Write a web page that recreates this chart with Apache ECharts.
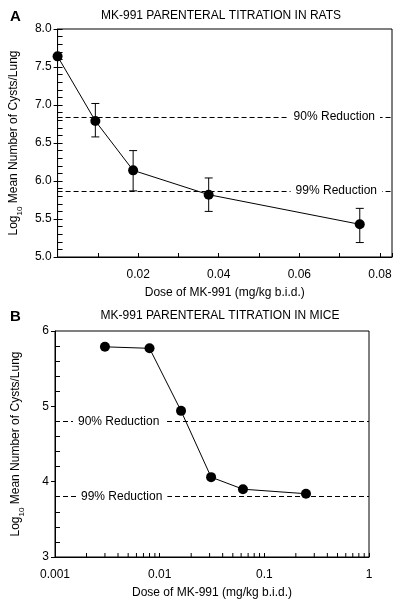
<!DOCTYPE html>
<html>
<head>
<meta charset="utf-8">
<script src="https://cdn.jsdelivr.net/npm/echarts@6/dist/echarts.min.js"></script>
<style>
html,body{margin:0;padding:0;background:#fff;}
#c{width:401px;height:603px;}
</style>
</head>
<body>
<div id="c"></div>
<script>
// ---- Panel A data (rats) ----
const doseA = [0, 0.009375, 0.01875, 0.0375, 0.075];
const meanA = [7.64, 6.79, 6.14, 5.82, 5.43];
const errLowA = [null, 6.58, 5.87, 5.60, 5.19];
const errHighA = [null, 7.02, 6.40, 6.04, 5.64];
const ref90A = 6.84;
const ref99A = 5.87;
const xTicksA = [0.02, 0.04, 0.06, 0.08];

// ---- Panel B data (mice) ----
const doseB = [0.003, 0.008, 0.016, 0.031, 0.0625, 0.25];
const meanB = [5.79, 5.77, 4.94, 4.06, 3.90, 3.84];
const ref90B = 4.80;
const ref99B = 3.80;
const logMinorB = [0.002,0.003,0.004,0.005,0.006,0.007,0.008,0.009,
                   0.02,0.03,0.04,0.05,0.06,0.07,0.08,0.09,
                   0.2,0.3,0.4,0.5,0.6,0.7,0.8,0.9];

const FONT = 'Liberation Sans, Arial, Helvetica, sans-serif';
const chart = echarts.init(document.getElementById('c'));

const yName = '{a|Log}{b|10}{a| Mean Number of Cysts/Lung}';
const yNameRich = {
  a: {fontSize: 12, fontFamily: FONT, color: '#000', lineHeight: 16, verticalAlign: 'top'},
  b: {fontSize: 8, fontFamily: FONT, color: '#000', lineHeight: 8, padding: [8, 0, 0, 0], verticalAlign: 'top'}
};

function refLine(y, text, pos, dist) {
  return {
    yAxis: y,
    label: {
      show: true, formatter: text, position: pos, distance: dist,
      color: '#000', fontSize: 12, fontFamily: FONT,
      backgroundColor: '#fff', padding: [1, 5, 1, 5]
    }
  };
}

const errDataA = doseA.map((d, i) => [d, errLowA[i], errHighA[i]]).filter(r => r[1] !== null);

const option = {
  animation: false,
  backgroundColor: '#fff',
  textStyle: {fontFamily: FONT},
  graphic: [
    {type: 'text', left: 10, top: 9, style: {text: 'A', font: 'bold 15px ' + FONT, fill: '#000'}},
    {type: 'text', left: 10, top: 309, style: {text: 'B', font: 'bold 15px ' + FONT, fill: '#000'}},
    {type: 'text', x: 221, y: 10, style: {text: 'MK-991 PARENTERAL TITRATION IN RATS', font: '12px ' + FONT, fill: '#000', align: 'center'}},
    {type: 'text', x: 220, y: 310, style: {text: 'MK-991 PARENTERAL TITRATION IN MICE', font: '12px ' + FONT, fill: '#000', align: 'center'}}
  ],
  grid: [
    {left: 56, top: 29, width: 336, height: 228, show: true, borderColor: '#000', borderWidth: 1, backgroundColor: 'transparent'},
    {left: 55, top: 331, width: 314, height: 226, show: true, borderColor: '#000', borderWidth: 1, backgroundColor: 'transparent'}
  ],
  xAxis: [
    {
      gridIndex: 0, type: 'value', min: 0, max: 0.083, interval: 0.01,
      splitLine: {show: false},
      axisLine: {lineStyle: {color: '#000'}},
      axisTick: {inside: true, length: 4, lineStyle: {color: '#000'}},
      axisLabel: {
        color: '#000', fontSize: 12, margin: 12,
        formatter: v => {
          const hit = xTicksA.find(t => Math.abs(t - v) < 1e-9);
          return hit ? hit.toFixed(2) : '';
        }
      },
      name: 'Dose of MK-991 (mg/kg b.i.d.)', nameLocation: 'middle', nameGap: 30,
      nameTextStyle: {color: '#000', fontSize: 12}
    },
    {
      gridIndex: 1, type: 'log', logBase: 10, min: 0.001, max: 1,
      splitLine: {show: false},
      axisLine: {lineStyle: {color: '#000'}},
      axisTick: {inside: true, length: 4, lineStyle: {color: '#000'}},
      axisLabel: {color: '#000', fontSize: 12, margin: 12, formatter: v => String(Number(v.toPrecision(1)))},
      name: 'Dose of MK-991 (mg/kg b.i.d.)', nameLocation: 'middle', nameGap: 30,
      nameTextStyle: {color: '#000', fontSize: 12}
    }
  ],
  yAxis: [
    {
      gridIndex: 0, type: 'value', min: 5, max: 8, interval: 0.5, position: 'left',
      splitLine: {show: false},
      axisLine: {lineStyle: {color: '#000'}},
      axisTick: {inside: false, length: 4, lineStyle: {color: '#000'}},
      axisLabel: {color: '#000', fontSize: 12, margin: 6, formatter: v => v.toFixed(1)},
      name: yName, nameLocation: 'middle', nameRotate: 90, nameGap: 29,
      nameTextStyle: {rich: yNameRich}
    },
    {
      gridIndex: 0, type: 'value', min: 5, max: 8, interval: 0.5, position: 'left', offset: 0,
      splitLine: {show: false},
      axisLine: {show: false},
      axisTick: {show: true, inside: true, length: 5, lineStyle: {color: '#000'}},
      minorTick: {show: true, splitNumber: 5, length: 5, lineStyle: {color: '#000'}},
      axisLabel: {show: false}
    },
    {
      gridIndex: 1, type: 'value', min: 3, max: 6, interval: 1, position: 'left',
      splitLine: {show: false},
      axisLine: {lineStyle: {color: '#000'}},
      axisTick: {inside: false, length: 4, lineStyle: {color: '#000'}},
      axisLabel: {color: '#000', fontSize: 12, margin: 6},
      name: yName, nameLocation: 'middle', nameRotate: 90, nameGap: 29,
      nameTextStyle: {rich: yNameRich}
    },
    {
      gridIndex: 1, type: 'value', min: 3, max: 6, interval: 1, position: 'left', offset: 0,
      splitLine: {show: false},
      axisLine: {show: false},
      axisTick: {show: false, inside: true},
      minorTick: {show: true, splitNumber: 5, length: 5, lineStyle: {color: '#000'}},
      axisLabel: {show: false}
    }
  ],
  series: [
    {
      type: 'line', xAxisIndex: 0, yAxisIndex: 0,
      data: doseA.map((d, i) => [d, meanA[i]]),
      symbol: 'circle', symbolSize: 10,
      itemStyle: {color: '#000'},
      lineStyle: {color: '#000', width: 1},
      z: 5,
      markLine: {
        silent: true, symbol: 'none',
        lineStyle: {color: '#000', type: [5, 3], width: 1},
        data: [refLine(ref90A, '90% Reduction', 'insideEnd', 12), refLine(ref99A, '99% Reduction', 'insideEnd', 10)]
      }
    },
    {
      type: 'custom', xAxisIndex: 0, yAxisIndex: 0,
      data: errDataA, z: 4,
      renderItem: (params, api) => {
        const top = api.coord([api.value(0), api.value(2)]);
        const bot = api.coord([api.value(0), api.value(1)]);
        const w = 4;
        const st = {stroke: '#000', lineWidth: 1};
        return {type: 'group', children: [
          {type: 'line', shape: {x1: top[0], y1: top[1], x2: bot[0], y2: bot[1]}, style: st},
          {type: 'line', shape: {x1: top[0] - w, y1: top[1], x2: top[0] + w, y2: top[1]}, style: st},
          {type: 'line', shape: {x1: bot[0] - w, y1: bot[1], x2: bot[0] + w, y2: bot[1]}, style: st}
        ]};
      }
    },
    {
      type: 'line', xAxisIndex: 1, yAxisIndex: 2,
      data: doseB.map((d, i) => [d, meanB[i]]),
      symbol: 'circle', symbolSize: 10,
      itemStyle: {color: '#000'},
      lineStyle: {color: '#000', width: 1},
      z: 5,
      markLine: {
        silent: true, symbol: 'none',
        lineStyle: {color: '#000', type: [5, 3], width: 1},
        data: [refLine(ref90B, '90% Reduction', 'insideStart', 18), refLine(ref99B, '99% Reduction', 'insideStart', 21)]
      }
    },
    {
      type: 'custom', xAxisIndex: 1, yAxisIndex: 2,
      data: logMinorB.map(v => [v, 3]), z: 3, silent: true,
      renderItem: (params, api) => {
        const p = api.coord([api.value(0), api.value(1)]);
        return {type: 'line', shape: {x1: p[0], y1: p[1], x2: p[0], y2: p[1] - 4}, style: {stroke: '#000', lineWidth: 1}};
      }
    }
  ]
};
chart.setOption(option);
</script>
</body>
</html>
